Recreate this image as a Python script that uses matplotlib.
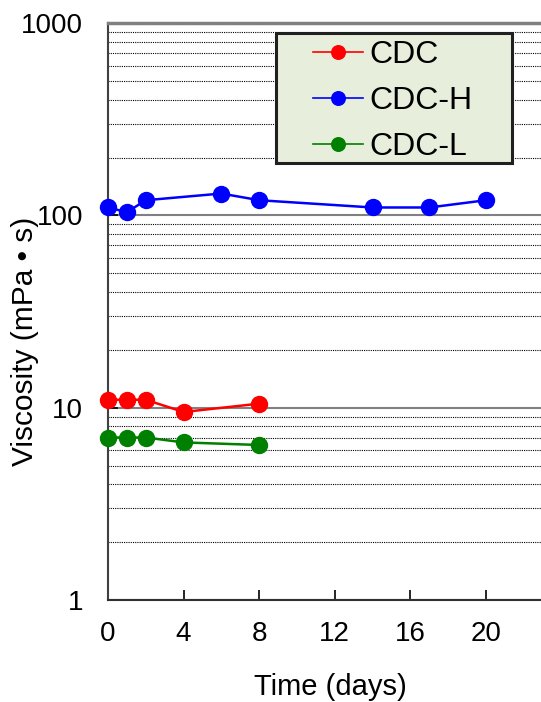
import matplotlib
matplotlib.use('Agg')
import matplotlib.pyplot as plt
from matplotlib.patches import Rectangle
from matplotlib.ticker import LogLocator, NullFormatter
import numpy as np

plt.rcParams['font.family'] = ['Liberation Sans', 'DejaVu Sans']

# data
days_cdc = [0, 1, 2, 4, 8]
visc_cdc = [11, 11, 11, 9.5, 10.5]

days_h = [0, 1, 2, 6, 8, 14, 17, 20]
visc_h = [110, 104, 120, 130, 120, 110, 110, 120]

days_l = [0, 1, 2, 4, 8]
visc_l = [7.0, 7.0, 7.0, 6.6, 6.4]

x_ticks = [0, 4, 8, 12, 16, 20]
y_ticks = [1, 10, 100, 1000]
y_labels = ['1', '10', '100', '1000']


def plot_viscosity():
    fig = plt.figure(figsize=(5.41, 7.02), dpi=100)
    ax = fig.add_axes([0.1996, 0.1453, 0.8385, 0.8217])

    ax.set_yscale('log')
    ax.set_ylim(1, 1000)
    ax.set_xlim(0, 24)

    # grid: solid gray on decades, dotted black in between
    ax.yaxis.set_minor_locator(LogLocator(base=10, subs=np.arange(2, 10)))
    ax.yaxis.set_minor_formatter(NullFormatter())
    ax.grid(which='minor', axis='y', color='black', lw=0.8, ls=(0, (1, 1)))
    ax.grid(which='major', axis='y', color='#808080', lw=1.5)
    ax.set_axisbelow(True)

    kw = dict(marker='o', ms=11.5, lw=1.8, clip_on=False, zorder=5)
    ax.plot(days_cdc, visc_cdc, color='#ff0000', label='CDC', **kw)
    ax.plot(days_h, visc_h, color='#0000ff', label='CDC-H', **kw)
    ax.plot(days_l, visc_l, color='#008000', label='CDC-L', **kw)

    ax.set_xticks(x_ticks)
    ax.set_yticks(y_ticks)
    ax.set_yticklabels(y_labels)
    ax.tick_params(axis='x', direction='in', length=7, width=1.2, labelsize=20, pad=15)
    ax.tick_params(axis='y', which='major', direction='in', length=7, width=1.2, labelsize=20, pad=18)
    ax.tick_params(axis='y', which='minor', length=0)

    ax.spines['top'].set_color('#808080')
    ax.spines['top'].set_linewidth(2.5)
    ax.spines['left'].set_color('#404040')
    ax.spines['left'].set_linewidth(1.5)
    ax.spines['bottom'].set_color('#303030')
    ax.spines['bottom'].set_linewidth(1.5)
    ax.spines['right'].set_visible(False)

    ax.set_xlabel('Time (days)', fontsize=21)
    ax.xaxis.set_label_coords(0.49, -0.127)
    ax.set_ylabel('Viscosity (mPa \u2022 s)', fontsize=21.5)
    ax.yaxis.set_label_coords(-0.152, 0.449)

    # legend box drawn separately so its size matches the original
    box = Rectangle((0.370, 0.757), 0.521, 0.226, transform=ax.transAxes,
                    facecolor='#e8eedc', edgecolor='#202020', lw=2.2, zorder=6)
    ax.add_patch(box)
    leg = ax.legend(loc='upper left', bbox_to_anchor=(0.452, 0.970), fontsize=23,
                    frameon=False, handlelength=1.55, markerscale=0.85,
                    borderpad=0, borderaxespad=0, labelspacing=0.5,
                    handletextpad=0.22)
    leg.set_zorder(7)
    for line in leg.get_lines():
        line.set_linewidth(1.2)

    plt.savefig('out.png', dpi=100)


if __name__ == "__main__":
    plot_viscosity()
